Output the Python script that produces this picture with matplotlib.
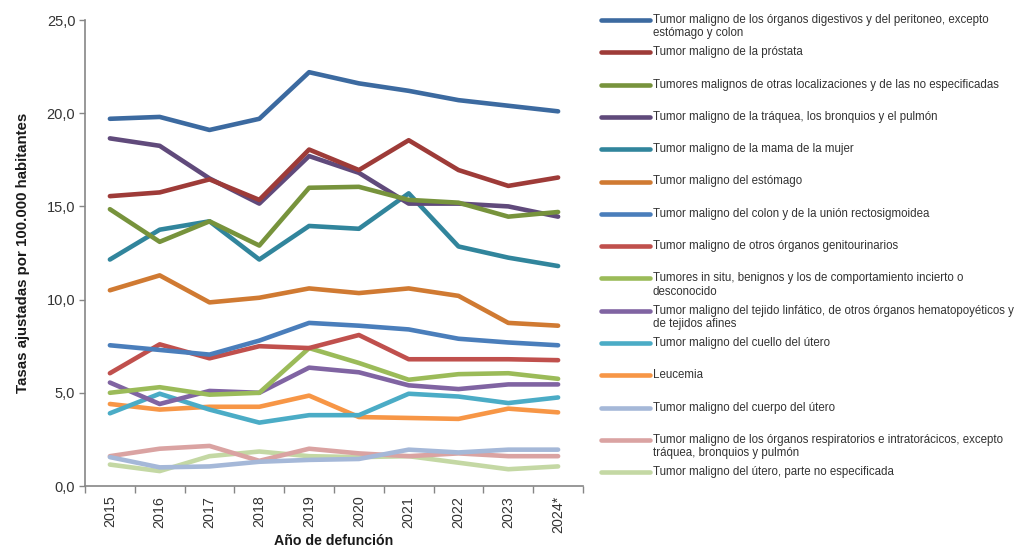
import matplotlib
matplotlib.use("Agg")
import matplotlib.pyplot as plt
from matplotlib.lines import Line2D
from matplotlib.ticker import FuncFormatter, FixedLocator

plt.rcParams['font.family'] = ['Liberation Sans', 'DejaVu Sans']

years = ["2015", "2016", "2017", "2018", "2019", "2020", "2021", "2022", "2023", "2024*"]

labels = [
    "Tumor maligno de los órganos digestivos y del peritoneo, excepto\nestómago y colon",
    "Tumor maligno de la próstata",
    "Tumores malignos de otras localizaciones y de las no especificadas",
    "Tumor maligno de la tráquea, los bronquios y el pulmón",
    "Tumor maligno de la mama de la mujer",
    "Tumor maligno del estómago",
    "Tumor maligno del colon y de la unión rectosigmoidea",
    "Tumor maligno de otros órganos genitourinarios",
    "Tumores in situ, benignos y los de comportamiento incierto o\ndesconocido",
    "Tumor maligno del tejido linfático, de otros órganos hematopoyéticos y\nde tejidos afines",
    "Tumor maligno del cuello del útero",
    "Leucemia",
    "Tumor maligno del cuerpo del útero",
    "Tumor maligno de los órganos respiratorios e intratorácicos, excepto\ntráquea, bronquios y pulmón",
    "Tumor maligno del útero, parte no especificada",
]

digestivo = [19.7, 19.8, 19.1, 19.7, 22.2, 21.6, 21.2, 20.7, 20.4, 20.1]
prostata = [15.55, 15.75, 16.45, 15.35, 18.05, 16.95, 18.55, 16.95, 16.1, 16.55]
otras_loc = [14.85, 13.1, 14.2, 12.9, 16.0, 16.05, 15.35, 15.2, 14.45, 14.7]
pulmon = [18.65, 18.25, 16.5, 15.15, 17.7, 16.8, 15.15, 15.15, 15.0, 14.45]
mama = [12.15, 13.75, 14.2, 12.15, 13.95, 13.8, 15.7, 12.85, 12.25, 11.8]
estomago = [10.5, 11.3, 9.85, 10.1, 10.6, 10.35, 10.6, 10.2, 8.75, 8.6]
colon = [7.55, 7.3, 7.05, 7.8, 8.75, 8.6, 8.4, 7.9, 7.7, 7.55]
genitourinarios = [6.05, 7.6, 6.85, 7.5, 7.4, 8.1, 6.8, 6.8, 6.8, 6.75]
in_situ = [5.0, 5.3, 4.9, 5.0, 7.4, 6.6, 5.7, 6.0, 6.05, 5.75]
linfatico = [5.55, 4.4, 5.1, 5.0, 6.35, 6.1, 5.4, 5.2, 5.45, 5.45]
cuello_utero = [3.9, 4.95, 4.1, 3.4, 3.8, 3.8, 4.95, 4.8, 4.45, 4.75]
leucemia = [4.4, 4.1, 4.25, 4.25, 4.85, 3.7, 3.65, 3.6, 4.15, 3.95]
cuerpo_utero = [1.55, 1.0, 1.05, 1.3, 1.4, 1.45, 1.95, 1.8, 1.95, 1.95]
respiratorios = [1.6, 2.0, 2.15, 1.35, 2.0, 1.75, 1.6, 1.75, 1.6, 1.6]
utero_ne = [1.15, 0.8, 1.6, 1.85, 1.6, 1.55, 1.6, 1.25, 0.9, 1.05]

series = [digestivo, prostata, otras_loc, pulmon, mama, estomago, colon,
          genitourinarios, in_situ, linfatico, cuello_utero, leucemia,
          cuerpo_utero, respiratorios, utero_ne]

colors = ["#3C6AA0", "#9E3B38", "#77933C", "#604A7B", "#31859C", "#D07A32",
          "#4A7EBB", "#C0504D", "#9BBB59", "#8064A2", "#4BACC6", "#F79646",
          "#A5B8D8", "#DAA3A2", "#C4D8A4"]

fig = plt.figure(figsize=(10.2, 5.52), dpi=100)
ax = fig.add_axes([85/1020, 1 - 486/552, (583 - 85)/1020, (486 - 20)/552])

x = list(range(len(years)))
# draw in reverse order so the first series is on top
for s, c in reversed(list(zip(series, colors))):
    ax.plot(x, s, color=c, lw=3.3, solid_capstyle='round', solid_joinstyle='round')

ax.set_xlim(-0.5, len(years) - 0.5)
ax.set_ylim(0, 25)
ax.set_yticks([0, 5, 10, 15, 20, 25])
ax.yaxis.set_major_formatter(FuncFormatter(lambda v, p: f"{v:.1f}".replace(".", ",")))
ax.set_xticks(x)
ax.set_xticklabels(years, rotation=90)
ax.xaxis.set_minor_locator(FixedLocator([i - 0.5 for i in range(len(years) + 1)]))
ax.tick_params(axis='x', which='major', length=0, pad=7, labelsize=10.3, colors='#333333')
ax.tick_params(axis='x', which='minor', length=5, width=1.0, color='#868686')
ax.tick_params(axis='y', which='major', length=4, width=1.0, color='#868686',
               labelsize=10.5, labelcolor='#333333', pad=3)

for sp in ['top', 'right']:
    ax.spines[sp].set_visible(False)
for sp in ['left', 'bottom']:
    ax.spines[sp].set_color('#868686')
    ax.spines[sp].set_linewidth(1.2)

ax.set_ylabel("Tasas ajustadas por 100.000 habitantes", fontsize=10.8, fontweight='bold',
              color='#1a1a1a', labelpad=12)
ax.set_xlabel("Año de defunción", fontsize=10.2, fontweight='bold', color='#1a1a1a', labelpad=1)

# legend drawn at the right
y0 = 20.0
dy = 32.3
for i, (lab, c) in enumerate(zip(labels, colors)):
    yy = 1 - (y0 + i * dy) / 552
    fig.add_artist(Line2D([601/1020, 650/1020], [yy, yy], color=c, lw=3.3,
                          solid_capstyle='round', transform=fig.transFigure))
    fig.text(653/1020, yy + 6/552, lab, fontsize=8.3, color='#333333',
             va='top', ha='left', linespacing=1.15)

fig.savefig("out.png", dpi=100)
